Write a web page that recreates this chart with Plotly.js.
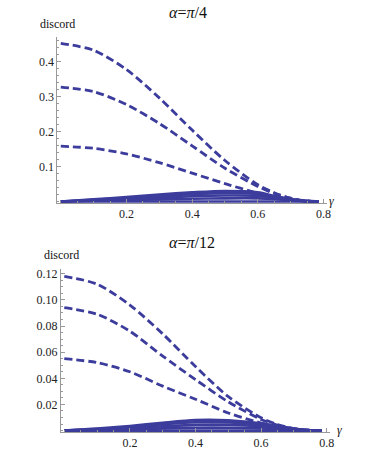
<!DOCTYPE html>
<html>
<head>
<meta charset="utf-8">
<script src="https://cdn.plot.ly/plotly-3.0.1.min.js"></script>
<style>
  html, body { margin: 0; padding: 0; background: white; }
  #chart { width: 382px; height: 450px; }
</style>
</head>
<body>
<div id="chart"></div>
<script>
// gamma grid shared by every curve
const gamma = [0, 0.1, 0.2, 0.3, 0.4, 0.5, 0.6, 0.65, 0.7, 0.75, 0.785];

// alpha = pi/4 : dashed curves
const topDashed1 = [0.452, 0.432, 0.377, 0.296, 0.204, 0.117, 0.048, 0.025, 0.009, 0.001, 0];
const topDashed2 = [0.327, 0.314, 0.277, 0.223, 0.159, 0.095, 0.043, 0.023, 0.0095, 0.0016, 0];
const topDashed3 = [0.158, 0.152, 0.136, 0.111, 0.081, 0.051, 0.024, 0.014, 0.006, 0.001, 0];
// alpha = pi/4 : solid curves (the low band)
const topSolid1 = [0, 0.006, 0.013, 0.020, 0.026, 0.030, 0.026, 0.016, 0.007, 0.001, 0];
const topSolid2 = [0, 0.005, 0.010, 0.016, 0.021, 0.024, 0.022, 0.014, 0.006, 0.001, 0];
const topSolid3 = [0, 0.003, 0.007, 0.011, 0.015, 0.017, 0.016, 0.011, 0.005, 0.001, 0];
const topSolid4 = [0, 0.002, 0.004, 0.006, 0.008, 0.009, 0.009, 0.007, 0.003, 0.0005, 0];
const topSolid5 = [0, 0, 0, 0, 0, 0, 0, 0, 0, 0, 0];

// alpha = pi/12 : dashed curves
const botDashed1 = [0.118, 0.112, 0.096, 0.074, 0.049, 0.026, 0.0098, 0.0047, 0.0015, 0.0002, 0];
const botDashed2 = [0.094, 0.089, 0.076, 0.057, 0.039, 0.022, 0.0085, 0.0042, 0.0014, 0.0002, 0];
const botDashed3 = [0.055, 0.052, 0.045, 0.034, 0.024, 0.0135, 0.0058, 0.003, 0.001, 0.0002, 0];
// alpha = pi/12 : solid curves
const botSolid1 = [0, 0.0015, 0.0035, 0.006, 0.008, 0.0078, 0.0055, 0.0035, 0.0015, 0.0003, 0];
const botSolid2 = [0, 0.0012, 0.003, 0.0049, 0.0064, 0.0063, 0.0045, 0.003, 0.0013, 0.0002, 0];
const botSolid3 = [0, 0.0008, 0.002, 0.0033, 0.0044, 0.0044, 0.0033, 0.0022, 0.001, 0.0002, 0];
const botSolid4 = [0, 0.0004, 0.001, 0.0017, 0.0022, 0.0022, 0.0017, 0.0011, 0.0005, 0.0001, 0];
const botSolid5 = [0, 0, 0, 0, 0, 0, 0, 0, 0, 0, 0];

const topTicksY = [0.1, 0.2, 0.3, 0.4];
const botTicksY = [0.02, 0.04, 0.06, 0.08, 0.10, 0.12];
const ticksX = [0.2, 0.4, 0.6, 0.8];

const lineColor = '#3c3c9c';
const serif = 'Liberation Serif';

function curve(y, xa, ya, dashed) {
    return {
        x: gamma, y: y, xaxis: xa, yaxis: ya,
        type: 'scatter', mode: 'lines',
        line: {color: lineColor, width: dashed ? 2.8 : 2.6, dash: dashed ? '8px,4px' : 'solid', shape: 'spline', smoothing: 0.8},
        showlegend: false, hoverinfo: 'skip'
    };
}

const data = [
    curve(topSolid5, 'x', 'y', false),
    curve(topSolid4, 'x', 'y', false),
    curve(topSolid3, 'x', 'y', false),
    curve(topSolid2, 'x', 'y', false),
    curve(topSolid1, 'x', 'y', false),
    curve(topDashed3, 'x', 'y', true),
    curve(topDashed2, 'x', 'y', true),
    curve(topDashed1, 'x', 'y', true),
    curve(botSolid5, 'x2', 'y2', false),
    curve(botSolid4, 'x2', 'y2', false),
    curve(botSolid3, 'x2', 'y2', false),
    curve(botSolid2, 'x2', 'y2', false),
    curve(botSolid1, 'x2', 'y2', false),
    curve(botDashed3, 'x2', 'y2', true),
    curve(botDashed2, 'x2', 'y2', true),
    curve(botDashed1, 'x2', 'y2', true)
];

const tickFont = {family: serif, size: 12, color: '#222'};

function xAxis(domain, anchor) {
    return {
        domain: domain, anchor: anchor, range: [-0.01, 0.81],
        showgrid: false, zeroline: false,
        showline: true, linecolor: '#999', linewidth: 1,
        ticks: 'inside', ticklen: 4, tickcolor: '#999',
        tickvals: ticksX, tickformat: '.1f', tickfont: tickFont,
        minor: {dtick: 0.05, tick0: 0, ticks: 'inside', ticklen: 2, tickcolor: '#999', showgrid: false}
    };
}

function yAxis(domain, anchor, range, vals, fmt, minorStep) {
    return {
        domain: domain, anchor: anchor, range: range,
        showgrid: false, zeroline: false,
        showline: true, linecolor: '#999', linewidth: 1,
        ticks: 'inside', ticklen: 4, tickcolor: '#999',
        tickvals: vals, tickformat: fmt, tickfont: tickFont,
        minor: {dtick: minorStep, tick0: 0, ticks: 'inside', ticklen: 2, tickcolor: '#999', showgrid: false}
    };
}

function label(text, x, y, size) {
    return {
        text: text, xref: 'paper', yref: 'paper', x: x, y: y,
        xanchor: 'center', yanchor: 'middle', showarrow: false,
        font: {family: serif, size: size, color: '#111'}
    };
}

const layout = {
    width: 382, height: 450,
    margin: {l: 0, r: 0, t: 0, b: 0},
    font: {family: serif},
    paper_bgcolor: 'white', plot_bgcolor: 'white',
    xaxis: xAxis([0.1505, 0.8555], 'y'),
    yaxis: yAxis([0.5491, 0.9178], 'x', [-0.004, 0.47], topTicksY, '.1f', 0.02),
    xaxis2: xAxis([0.1597, 0.8639], 'y2'),
    yaxis2: yAxis([0.0402, 0.4022], 'x2', [-0.001, 0.1236], botTicksY, '.2f', 0.005),
    annotations: [
        label('<i>α</i>=<i>π</i>/4', 0.492, 0.9733, 16),
        label('<i>α</i>=<i>π</i>/12', 0.5026, 0.4622, 16),
        label('discord', 0.1518, 0.9467, 12),
        label('discord', 0.1623, 0.4333, 12),
        label('<i>γ</i>', 0.868, 0.553, 12),
        label('<i>γ</i>', 0.890, 0.045, 12)
    ]
};

Plotly.newPlot('chart', data, layout, {staticPlot: true});
</script>
</body>
</html>
